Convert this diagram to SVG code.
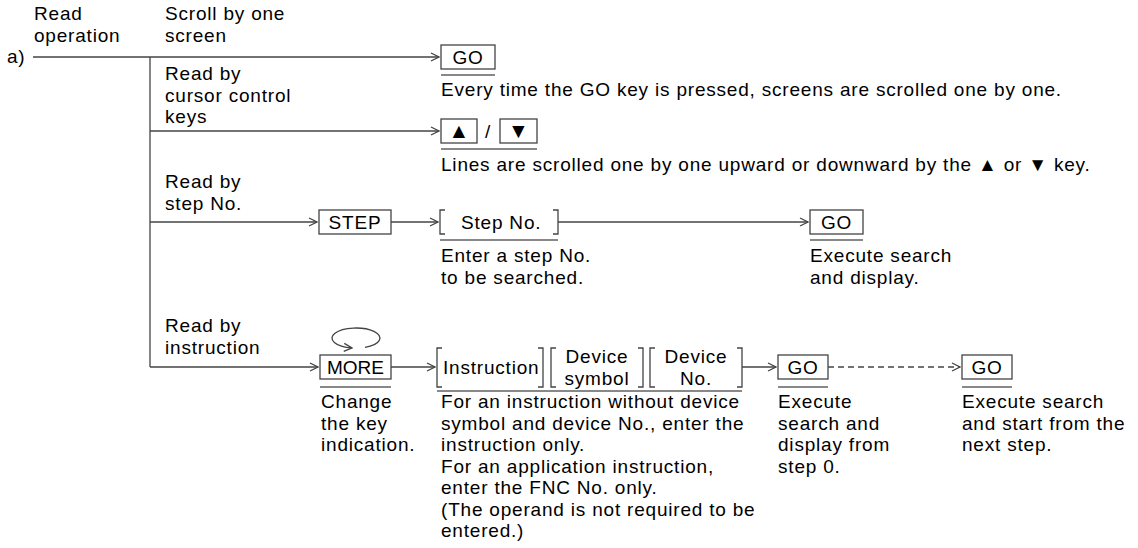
<svg xmlns="http://www.w3.org/2000/svg" width="1138" height="548" viewBox="0 0 1138 548">
<style>
.t{font-family:"Liberation Sans",Arial,sans-serif;font-size:19px;letter-spacing:0.8px;fill:#000}
.m{text-anchor:middle}
.ln{stroke:#444;stroke-width:1.3;fill:none}
.dash{stroke-dasharray:6 4}
.box{fill:#fff;stroke:#444;stroke-width:1.3}
.ul{stroke:#888;stroke-width:2}
.br{stroke:#444;stroke-width:1.3;fill:none}
</style>
<defs>
<marker id="ah" markerWidth="10" markerHeight="10" refX="9" refY="5" orient="auto" markerUnits="userSpaceOnUse">
<path d="M1,1 L9,5 L1,9" fill="none" stroke="#444" stroke-width="1.3"/>
</marker>
</defs>
<rect width="1138" height="548" fill="#fff"/>

<g id="labels">
<text class="t" x="7" y="63">a)</text>
<text class="t" x="34" y="20">Read</text>
<text class="t" x="34" y="41.5">operation</text>
<text class="t" x="165" y="20">Scroll by one</text>
<text class="t" x="165" y="41.5">screen</text>
<text class="t" x="165" y="80">Read by</text>
<text class="t" x="165" y="101.5">cursor control</text>
<text class="t" x="165" y="123">keys</text>
<text class="t" x="165" y="188">Read by</text>
<text class="t" x="165" y="209.5">step No.</text>
<text class="t" x="165" y="332">Read by</text>
<text class="t" x="165" y="353.5">instruction</text>
</g>

<g id="connectors">
<path class="ln" d="M33,57 H439" marker-end="url(#ah)"/>
<path class="ln" d="M150,57 V367"/>
<path class="ln" d="M150,131 H439" marker-end="url(#ah)"/>
<path class="ln" d="M150,222 H317" marker-end="url(#ah)"/>
<path class="ln" d="M391,222 H438" marker-end="url(#ah)"/>
<path class="ln" d="M558,222 H808" marker-end="url(#ah)"/>
<path class="ln" d="M150,367 H318" marker-end="url(#ah)"/>
<path class="ln" d="M391,367 H435" marker-end="url(#ah)"/>
<path class="ln" d="M742,367 H776" marker-end="url(#ah)"/>
<path class="ln dash" d="M828,367 H960" marker-end="url(#ah)"/>
<path class="ln" d="M365,347.3 A24 10 0 1 0 352,347.9" marker-end="url(#ah)"/>
</g>

<g id="n-go1">
<rect class="box" x="441" y="45" width="54" height="24"/>
<text class="t m" x="468" y="64">GO</text>
<line class="ul" x1="441" y1="75" x2="495" y2="75"/>
<text class="t" x="441" y="96">Every time the GO key is pressed, screens are scrolled one by one.</text>
</g>

<g id="n-cursor">
<rect class="box" x="441" y="119" width="36" height="24"/>
<text class="t m" x="459" y="138" style="font-size:21px;letter-spacing:0">▲</text>
<text class="t m" x="488" y="138">/</text>
<rect class="box" x="500" y="119" width="37" height="24"/>
<text class="t m" x="518.5" y="138" style="font-size:21px;letter-spacing:0">▼</text>
<line class="ul" x1="441" y1="149" x2="537" y2="149"/>
<text class="t" x="441" y="171">Lines are scrolled one by one upward or downward by the ▲ or ▼ key.</text>
</g>

<g id="n-step">
<rect class="box" x="319" y="210" width="72" height="24"/>
<text class="t m" x="355" y="229">STEP</text>
</g>

<g id="n-stepno">
<path class="br" d="M445,210 H440 V234 H445 M553,210 H558 V234 H553"/>
<text class="t" x="461" y="229">Step No.</text>
<line class="ul" x1="440" y1="240" x2="558" y2="240"/>
<text class="t" x="441" y="262">Enter a step No.</text>
<text class="t" x="441" y="283.5">to be searched.</text>
</g>

<g id="n-go2">
<rect class="box" x="810" y="210" width="53" height="24"/>
<text class="t m" x="836.5" y="229">GO</text>
<line class="ul" x1="810" y1="240" x2="863" y2="240"/>
<text class="t" x="810" y="262">Execute search</text>
<text class="t" x="810" y="283.5">and display.</text>
</g>

<g id="n-more">
<rect class="box" x="320" y="355" width="71" height="24"/>
<text class="t m" x="355.5" y="374" style="letter-spacing:0">MORE</text>
<line class="ul" x1="320" y1="387" x2="391" y2="387"/>
<text class="t" x="321" y="408">Change</text>
<text class="t" x="321" y="429.5">the key</text>
<text class="t" x="321" y="451">indication.</text>
</g>

<g id="n-operands">
<path class="br" d="M442,348 H437 V387 H442 M538,348 H543 V387 H538"/>
<text class="t" x="443" y="374">Instruction</text>
<path class="br" d="M556,348 H551 V387 H556 M638,348 H643 V387 H638"/>
<text class="t m" x="597" y="363">Device</text>
<text class="t m" x="597" y="384.5">symbol</text>
<path class="br" d="M655,348 H650 V387 H655 M737,348 H742 V387 H737"/>
<text class="t m" x="696" y="363">Device</text>
<text class="t m" x="696" y="384.5">No.</text>
<line class="ul" x1="437" y1="391" x2="742" y2="391"/>
<text class="t" x="441" y="408">For an instruction without device</text>
<text class="t" x="441" y="429.5">symbol and device No., enter the</text>
<text class="t" x="441" y="451">instruction only.</text>
<text class="t" x="441" y="472.5">For an application instruction,</text>
<text class="t" x="441" y="494">enter the FNC No. only.</text>
<text class="t" x="441" y="515.5">(The operand is not required to be</text>
<text class="t" x="441" y="537">entered.)</text>
</g>

<g id="n-go3">
<rect class="box" x="778" y="355" width="50" height="24"/>
<text class="t m" x="803" y="374">GO</text>
<line class="ul" x1="778" y1="387" x2="828" y2="387"/>
<text class="t" x="778" y="408">Execute</text>
<text class="t" x="778" y="429.5">search and</text>
<text class="t" x="778" y="451">display from</text>
<text class="t" x="778" y="472.5">step 0.</text>
</g>

<g id="n-go4">
<rect class="box" x="962" y="355" width="50" height="24"/>
<text class="t m" x="987" y="374">GO</text>
<line class="ul" x1="962" y1="387" x2="1012" y2="387"/>
<text class="t" x="962" y="408">Execute search</text>
<text class="t" x="962" y="429.5">and start from the</text>
<text class="t" x="962" y="451">next step.</text>
</g>
</svg>
